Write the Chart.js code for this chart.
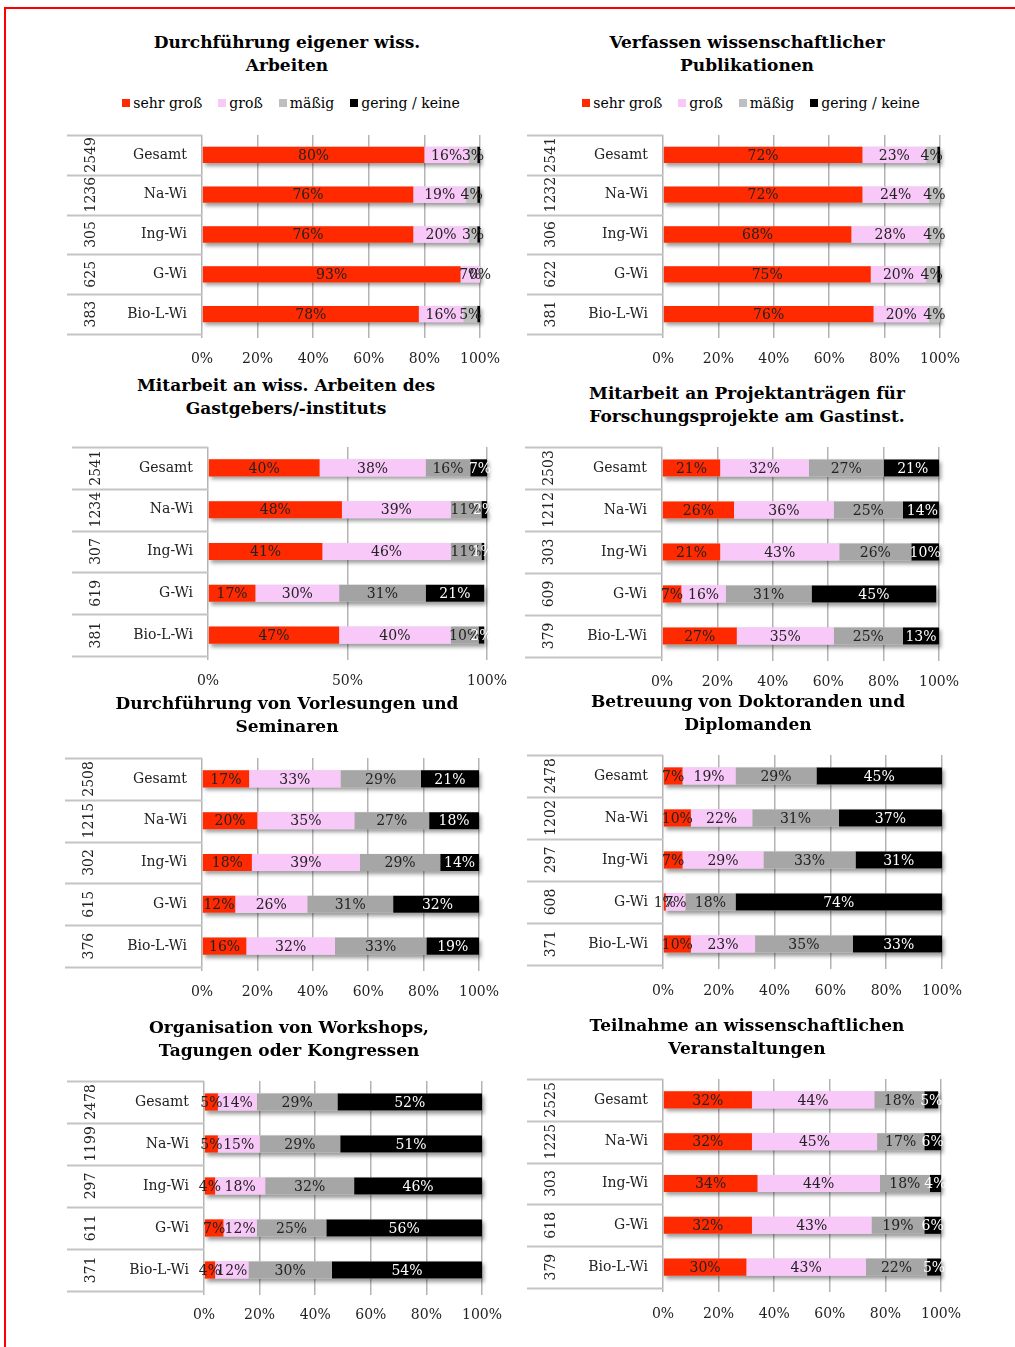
<!DOCTYPE html>
<html>
<head>
<meta charset="utf-8">
<script src="https://cdn.jsdelivr.net/npm/chart.js@4/dist/chart.umd.min.js"></script>
<style>
  html, body { margin: 0; padding: 0; background: #fff; }
  body { width: 1015px; height: 1347px; position: relative; overflow: hidden;
         font-family: "DejaVu Serif", serif; color: #000; }
  .frame-top { position: absolute; left: 4px; top: 7px; width: 1011px; height: 2px; background: #ff0000; }
  .frame-left { position: absolute; left: 4px; top: 7px; width: 2px; height: 1340px; background: #ff0000; }
  .title { position: absolute; width: 460px; text-align: center; font-weight: bold;
           font-size: 17px; line-height: 23px; white-space: nowrap; }
  .legend { position: absolute; width: 460px; height: 18px; display: flex; justify-content: center;
            gap: 16px; font-size: 14px; line-height: 18px; white-space: nowrap; }
  .legend .item { display: flex; align-items: center; }
  .legend .sw { display: inline-block; width: 8px; height: 8px; margin-right: 3px; }
  canvas { position: absolute; }
</style>
</head>
<body>
<div class="frame-top"></div>
<div class="frame-left"></div>
<script>
// ---- data ----------------------------------------------------------------
const categories = ['Gesamt', 'Na-Wi', 'Ing-Wi', 'G-Wi', 'Bio-L-Wi'];
const seriesNames = ['sehr groß', 'groß', 'mäßig', 'gering / keine'];

// Durchführung eigener wiss. Arbeiten
const eigeneN          = [2549, 1236, 305, 625, 383];
const eigeneSehrGross  = [80, 76, 76, 93, 78];
const eigeneGross      = [16, 19, 20, 7, 16];
const eigeneMaessig    = [3, 4, 3, 0, 5];
const eigeneGering     = [1, 1, 1, 0, 1];

// Verfassen wissenschaftlicher Publikationen
const publN            = [2541, 1232, 306, 622, 381];
const publSehrGross    = [72, 72, 68, 75, 76];
const publGross        = [23, 24, 28, 20, 20];
const publMaessig      = [4, 4, 4, 4, 4];
const publGering       = [1, 0, 0, 1, 0];

// Mitarbeit an wiss. Arbeiten des Gastgebers/-instituts
const mitarbN          = [2541, 1234, 307, 619, 381];
const mitarbSehrGross  = [40, 48, 41, 17, 47];
const mitarbGross      = [38, 39, 46, 30, 40];
const mitarbMaessig    = [16, 11, 11, 31, 10];
const mitarbGering     = [7, 2, 1, 21, 2];

// Mitarbeit an Projektanträgen für Forschungsprojekte am Gastinst.
const antragN          = [2503, 1212, 303, 609, 379];
const antragSehrGross  = [21, 26, 21, 7, 27];
const antragGross      = [32, 36, 43, 16, 35];
const antragMaessig    = [27, 25, 26, 31, 25];
const antragGering     = [21, 14, 10, 45, 13];

// Durchführung von Vorlesungen und Seminaren
const lehreN           = [2508, 1215, 302, 615, 376];
const lehreSehrGross   = [17, 20, 18, 12, 16];
const lehreGross       = [33, 35, 39, 26, 32];
const lehreMaessig     = [29, 27, 29, 31, 33];
const lehreGering      = [21, 18, 14, 32, 19];

// Betreuung von Doktoranden und Diplomanden
const betreuN          = [2478, 1202, 297, 608, 371];
const betreuSehrGross  = [7, 10, 7, 1, 10];
const betreuGross      = [19, 22, 29, 7, 23];
const betreuMaessig    = [29, 31, 33, 18, 35];
const betreuGering     = [45, 37, 31, 74, 33];

// Organisation von Workshops, Tagungen oder Kongressen
const orgaN            = [2478, 1199, 297, 611, 371];
const orgaSehrGross    = [5, 5, 4, 7, 4];
const orgaGross        = [14, 15, 18, 12, 12];
const orgaMaessig      = [29, 29, 32, 25, 30];
const orgaGering       = [52, 51, 46, 56, 54];

// Teilnahme an wissenschaftlichen Veranstaltungen
const teilnN           = [2525, 1225, 303, 618, 379];
const teilnSehrGross   = [32, 32, 34, 32, 30];
const teilnGross       = [44, 45, 44, 43, 43];
const teilnMaessig     = [18, 17, 18, 19, 22];
const teilnGering      = [5, 6, 4, 6, 5];

const panels = [
  { title: ['Durchführung eigener wiss.', 'Arbeiten'], n: eigeneN,
    values: [eigeneSehrGross, eigeneGross, eigeneMaessig, eigeneGering], step: 20 },
  { title: ['Verfassen wissenschaftlicher', 'Publikationen'], n: publN,
    values: [publSehrGross, publGross, publMaessig, publGering], step: 20 },
  { title: ['Mitarbeit an wiss. Arbeiten des', 'Gastgebers/-instituts'], n: mitarbN,
    values: [mitarbSehrGross, mitarbGross, mitarbMaessig, mitarbGering], step: 50 },
  { title: ['Mitarbeit an Projektanträgen für', 'Forschungsprojekte am Gastinst.'], n: antragN,
    values: [antragSehrGross, antragGross, antragMaessig, antragGering], step: 20 },
  { title: ['Durchführung von Vorlesungen und', 'Seminaren'], n: lehreN,
    values: [lehreSehrGross, lehreGross, lehreMaessig, lehreGering], step: 20 },
  { title: ['Betreuung von Doktoranden und', 'Diplomanden'], n: betreuN,
    values: [betreuSehrGross, betreuGross, betreuMaessig, betreuGering], step: 20 },
  { title: ['Organisation von Workshops,', 'Tagungen oder Kongressen'], n: orgaN,
    values: [orgaSehrGross, orgaGross, orgaMaessig, orgaGering], step: 20 },
  { title: ['Teilnahme an wissenschaftlichen', 'Veranstaltungen'], n: teilnN,
    values: [teilnSehrGross, teilnGross, teilnMaessig, teilnGering], step: 20 }
];

// ---- layout & style -------------------------------------------------------
const FONT = '"DejaVu Serif", serif';
const GRID = '#b4b4b4';
const TABLE_LINE = '#c4c4c4';
const RED = '#ff2a00', PINK = '#f8c9f8', BLACK = '#000000';

const layout = [
  { cx: 287, titleY: 42,   legendY: 103, tableLeft: 67,  axisX: 202, x100: 480, gridTop: 135,  gridBottom: 334,  tickY: 359,  gray: '#bfbfbf', blackLabels: false },
  { cx: 747, titleY: 42,   legendY: 103, tableLeft: 527, axisX: 663, x100: 940, gridTop: 135,  gridBottom: 334,  tickY: 359,  gray: '#bfbfbf', blackLabels: false },
  { cx: 286, titleY: 385,  tableLeft: 72,  axisX: 208, x100: 487, gridTop: 447,  gridBottom: 656,  tickY: 681,  gray: '#a3a3a3', blackLabels: true },
  { cx: 747, titleY: 393,  tableLeft: 525, axisX: 662, x100: 939, gridTop: 447,  gridBottom: 657,  tickY: 682,  gray: '#a6a6a6', blackLabels: true },
  { cx: 287, titleY: 703,  tableLeft: 65,  axisX: 202, x100: 479, gridTop: 758,  gridBottom: 967,  tickY: 992,  gray: '#a6a6a6', blackLabels: true },
  { cx: 748, titleY: 701,  tableLeft: 527, axisX: 663, x100: 942, gridTop: 755,  gridBottom: 965,  tickY: 991,  gray: '#a6a6a6', blackLabels: true },
  { cx: 289, titleY: 1027, tableLeft: 67,  axisX: 204, x100: 482, gridTop: 1081, gridBottom: 1291, tickY: 1315, gray: '#a6a6a6', blackLabels: true },
  { cx: 747, titleY: 1025, tableLeft: 527, axisX: 663, x100: 941, gridTop: 1079, gridBottom: 1288, tickY: 1314, gray: '#a6a6a6', blackLabels: true }
];

// soft drop shadow under each full stacked bar
const barShadow = {
  id: 'barShadow',
  beforeDatasetsDraw(chart) {
    const ctx = chart.ctx;
    const first = chart.getDatasetMeta(0);
    const last = chart.getDatasetMeta(chart.data.datasets.length - 1);
    first.data.forEach((bar, j) => {
      const left = bar.base;
      const right = Math.min(last.data[j].x, chart.chartArea.right);
      const top = bar.y - bar.height / 2;
      ctx.save();
      ctx.shadowColor = 'rgba(0,0,0,0.4)';
      ctx.shadowBlur = 4;
      ctx.shadowOffsetX = 2;
      ctx.shadowOffsetY = 3;
      ctx.fillStyle = '#dddddd';
      ctx.fillRect(left, top, right - left, bar.height);
      ctx.restore();
    });
  }
};

// percentage labels centred in each segment
const segmentLabels = {
  id: 'segmentLabels',
  afterDatasetsDraw(chart, args, opts) {
    const ctx = chart.ctx;
    ctx.save();
    ctx.font = '14px ' + FONT;
    ctx.textAlign = 'center';
    ctx.textBaseline = 'middle';
    chart.data.datasets.forEach((ds, k) => {
      if (k === 3 && !opts.blackLabels) return;
      const meta = chart.getDatasetMeta(k);
      meta.data.forEach((bar, j) => {
        const v = ds.data[j];
        const x = (bar.x + bar.base) / 2;
        ctx.fillStyle = k === 3 ? '#ffffff' : '#222222';
        ctx.fillText(v + '%', x, bar.y + 1);
      });
    });
    ctx.restore();
  }
};

// table rules and rotated group sizes left of the category names
const sideTable = {
  id: 'sideTable',
  afterDraw(chart, args, opts) {
    const ctx = chart.ctx;
    const ys = chart.scales.y;
    const n = chart.data.labels.length;
    const step = ys.height / n;
    const x0 = opts.left, x1 = chart.chartArea.left;
    ctx.save();
    ctx.strokeStyle = TABLE_LINE;
    ctx.lineWidth = 2;
    for (let i = 0; i <= n; i++) {
      const y = Math.round(ys.top + i * step) + 0.5;
      ctx.beginPath();
      ctx.moveTo(x0, y);
      ctx.lineTo(x1, y);
      ctx.stroke();
    }
    ctx.fillStyle = '#222222';
    ctx.font = '14px ' + FONT;
    ctx.textAlign = 'center';
    ctx.textBaseline = 'middle';
    opts.counts.forEach((c, i) => {
      const yc = ys.getPixelForValue(i);
      ctx.save();
      ctx.translate(x0 + 24, yc);
      ctx.rotate(-Math.PI / 2);
      ctx.fillText(String(c), 0, 0);
      ctx.restore();
    });
    ctx.restore();
  }
};

function addText(cls, left, top, html) {
  const d = document.createElement('div');
  d.className = cls;
  d.style.left = left + 'px';
  d.style.top = top + 'px';
  d.innerHTML = html;
  document.body.appendChild(d);
  return d;
}

panels.forEach((p, i) => {
  const g = layout[i];
  const colors = [RED, PINK, g.gray, BLACK];

  addText('title', g.cx - 230, g.titleY - 11.5, p.title.join('<br>'));

  if (g.legendY) {
    const items = seriesNames.map((s, k) =>
      '<span class="item"><span class="sw" style="background:' + colors[k] + '"></span>' + s + '</span>').join('');
    addText('legend', g.cx - 230 + 4, g.legendY - 9, items);
  }

  const cLeft = g.tableLeft - 2;
  const cTop = g.gridTop - 4;
  const padRight = 34;
  const W = g.x100 - cLeft + padRight;
  const H = g.tickY + 14 - cTop;
  const canvas = document.createElement('canvas');
  canvas.width = W;
  canvas.height = H;
  canvas.style.left = cLeft + 'px';
  canvas.style.top = cTop + 'px';
  canvas.style.width = W + 'px';
  canvas.style.height = H + 'px';
  document.body.appendChild(canvas);

  new Chart(canvas, {
    type: 'bar',
    data: {
      labels: categories,
      datasets: seriesNames.map((name, k) => ({
        label: name,
        data: p.values[k],
        backgroundColor: colors[k],
        borderWidth: 0,
        categoryPercentage: 1,
        barPercentage: 0.41
      }))
    },
    options: {
      indexAxis: 'y',
      responsive: false,
      animation: false,
      devicePixelRatio: 1,
      layout: { padding: { top: 4, right: padRight, left: 0, bottom: 0 } },
      plugins: {
        legend: { display: false },
        tooltip: { enabled: false },
        segmentLabels: { blackLabels: g.blackLabels },
        sideTable: { left: 2, counts: p.n }
      },
      scales: {
        x: {
          stacked: true,
          min: 0,
          max: 100,
          ticks: {
            stepSize: p.step,
            callback: v => v + '%',
            font: { family: FONT, size: 14 },
            color: '#222222',
            padding: Math.round(g.tickY - g.gridBottom - 12.5),
            maxRotation: 0
          },
          grid: { color: GRID, lineWidth: 1.5, drawTicks: true, tickLength: 4 },
          border: { display: false },
          afterFit: s => { s.height = g.tickY + 14 - g.gridBottom; }
        },
        y: {
          stacked: true,
          ticks: { font: { family: FONT, size: 14 }, color: '#222222', padding: 15 },
          grid: { display: false, drawTicks: false },
          border: { display: false },
          afterFit: s => {
            s.width = g.axisX - cLeft;
            s.paddingTop = 0;
            s.paddingBottom = 0;
          }
        }
      }
    },
    plugins: [barShadow, segmentLabels, sideTable]
  });
});
</script>
</body>
</html>
